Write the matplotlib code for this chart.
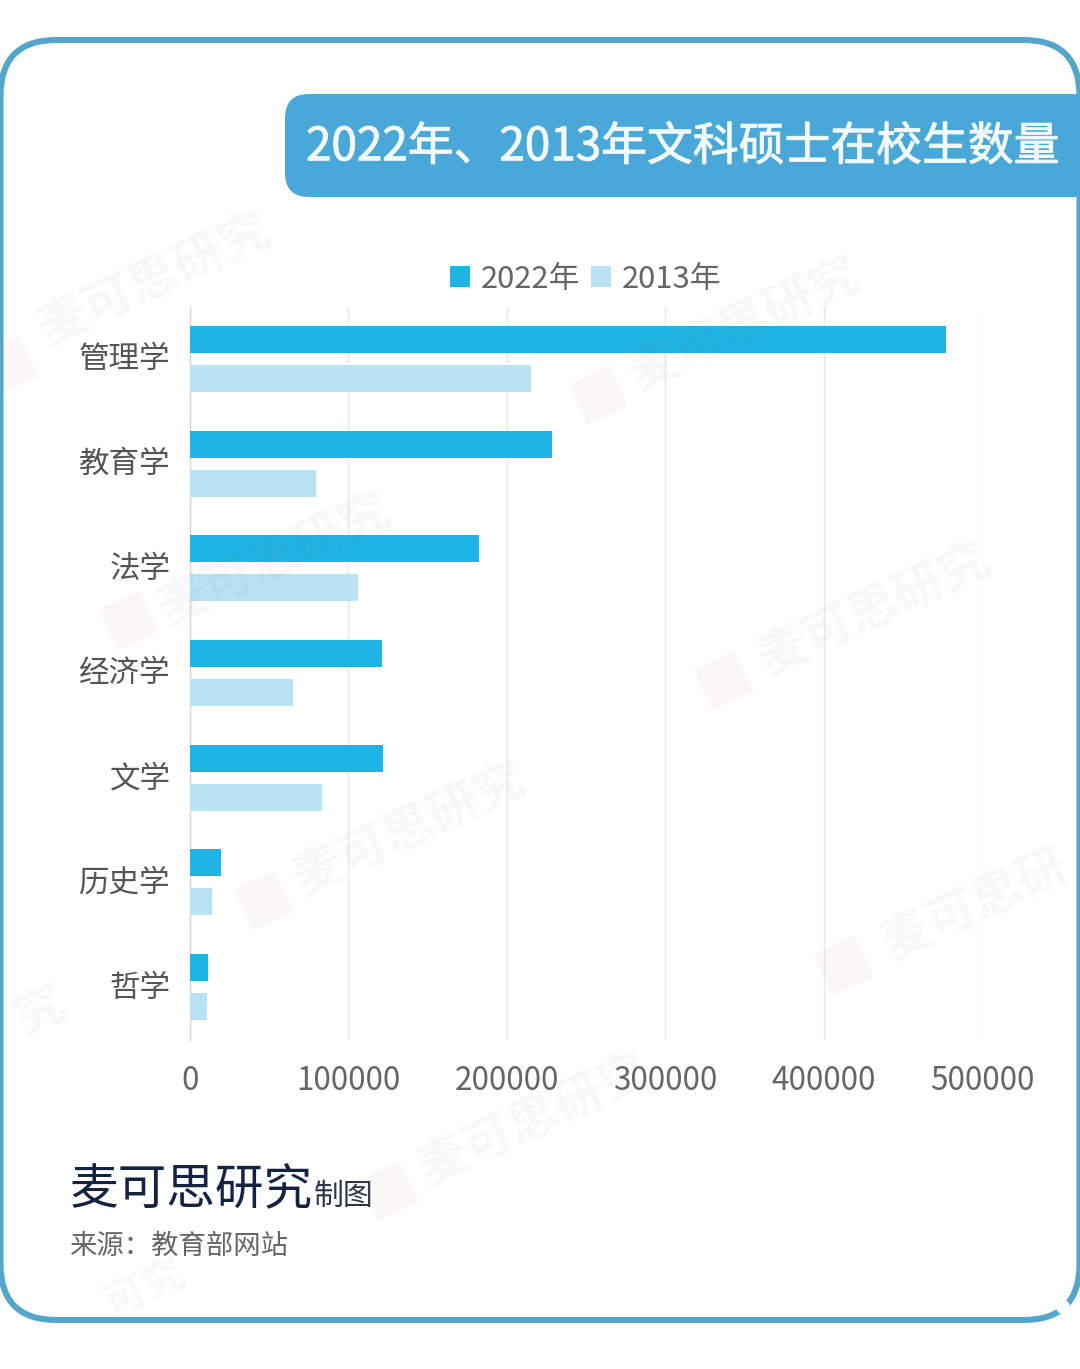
import matplotlib
matplotlib.use('Agg')
import matplotlib.pyplot as plt
import matplotlib.patheffects as pe
from matplotlib.patches import FancyBboxPatch, Circle
from matplotlib.transforms import ScaledTranslation
import numpy as np

plt.rcParams['font.family'] = ['Noto Sans CJK SC', 'DejaVu Sans']

# values
categories = ['管理学', '教育学', '法学', '经济学', '文学', '历史学', '哲学']
values_2022 = [477000, 228500, 182500, 121200, 121800, 19600, 11400]
values_2013 = [215300, 79500, 106000, 65000, 83300, 13900, 10800]
series_names = ['2022年', '2013年']
x_ticks = [0, 100000, 200000, 300000, 400000, 500000]

W, H = 1080, 1369
color_2022 = '#20B4E4'
color_2013 = '#B9E2F3'
frame_color = '#55A6CB'
title_color = '#4AA8D9'

fig = plt.figure(figsize=(W / 100, H / 100), dpi=100, facecolor='white')

# background layer in pixel coordinates
deco = fig.add_axes([0, 0, 1, 1], zorder=0)
deco.set_xlim(0, W)
deco.set_ylim(H, 0)
deco.axis('off')

# rounded frame, its sides sit right on the image edge
deco.add_patch(FancyBboxPatch((0.5, 40), 1079, 1280, boxstyle='round,pad=0,rounding_size=56',
                              fc='white', ec=frame_color, lw=4.4))
# small break in the frame, lower right
deco.add_patch(Circle((1063, 1307), 7, fc='white', ec='none', zorder=3))

# title box runs off the right edge
deco.add_patch(FancyBboxPatch((285, 94), 900, 103, boxstyle='round,pad=0,rounding_size=24',
                              fc=title_color, ec='none', zorder=4))
deco.text(306, 147, '2022年、2013年文科硕士在校生数量', color='#F2FAFD', fontsize=33,
          va='center', ha='left', zorder=5,
          path_effects=[pe.withStroke(linewidth=0.7, foreground='#F2FAFD')])

# footer
deco.text(69, 1190, '麦可思研究', color='#14233F', fontsize=35, va='center', ha='left')
deco.text(314, 1196, '制图', color='#2B3648', fontsize=21.5, va='center', ha='left')
deco.text(69, 1246, '来源：教育部网站', color='#666666', fontsize=19.7, va='center', ha='left')

# chart
ax = fig.add_axes([190 / W, 1 - 1039.5 / H, 792 / W, 733 / H], zorder=1)
ax.patch.set_alpha(0)
y = np.arange(len(categories))
bar_h = 0.258
offset = 0.186
bars_a = ax.barh(y - offset, values_2022, height=bar_h, color=color_2022, label=series_names[0], zorder=3)
bars_b = ax.barh(y + offset, values_2013, height=bar_h, color=color_2013, label=series_names[1], zorder=3)
ax.set_ylim(len(categories) - 0.5, -0.5)
ax.set_xlim(0, 500000)
ax.set_yticks(y)
ax.set_yticklabels(categories, fontsize=22, color='#555555')
ax.set_xticks(x_ticks)
ax.set_xticklabels([str(v) for v in x_ticks], fontsize=22.6, color='#666666')
ax.tick_params(axis='x', length=0, pad=18)
ax.tick_params(axis='y', length=0, pad=14)
ax.grid(axis='x', color='#E9E9E9', lw=1, zorder=0)
for side in ['top', 'right', 'bottom']:
    ax.spines[side].set_visible(False)
ax.spines['left'].set_color('#D8D8D8')
ax.spines['left'].set_linewidth(1)

# category names sit a little above the bar pair centre
up = ScaledTranslation(0, 2.5 / 100, fig.dpi_scale_trans)
for lbl in ax.get_yticklabels():
    lbl.set_transform(lbl.get_transform() + up)

leg = fig.legend(handles=[bars_a, bars_b], labels=series_names, loc='center',
                 bbox_to_anchor=(586 / W, 1 - 279 / H), ncol=2, frameon=False,
                 fontsize=22.3, labelcolor='#666666', handlelength=0.64, handleheight=0.64,
                 handletextpad=0.36, columnspacing=0.34, borderpad=0, borderaxespad=0)

# faint watermarks over everything, only the parts that show inside the frame
wm = fig.add_axes([0, 0, 1, 1], zorder=2)
wm.set_xlim(0, W)
wm.set_ylim(H, 0)
wm.axis('off')
wm_marks = [('麦可思研究', 155, 280), ('麦可思研究', 745, 325), ('麦可思研究', 275, 560),
            ('麦可思研究', 875, 610), ('麦可思研究', 410, 830), ('麦可思研', 975, 905),
            ('麦可思研究', 535, 1120)]
for name, cx, cy in wm_marks:
    wm.text(cx, cy, name, color='#777777', alpha=0.055, fontsize=36, fontweight='bold',
            rotation=25, ha='center', va='center', rotation_mode='anchor')
for cx, cy in [(8, 365), (598, 395), (128, 620), (723, 680), (263, 900), (843, 965), (388, 1190)]:
    # logo square in front of the name
    wm.plot([cx], [cy], marker=(4, 0, 25 + 45), ms=46, color='#C9866F', alpha=0.06, mew=0)
wm.text(40, 1012, '究', color='#777777', alpha=0.055, fontsize=36, fontweight='bold', rotation=25,
        ha='center', va='center', rotation_mode='anchor')
wm.text(145, 1289, '可究', color='#777777', alpha=0.05, fontsize=30, fontweight='bold', rotation=25,
        ha='center', va='center', rotation_mode='anchor')

fig.savefig('out.png', dpi=100)
